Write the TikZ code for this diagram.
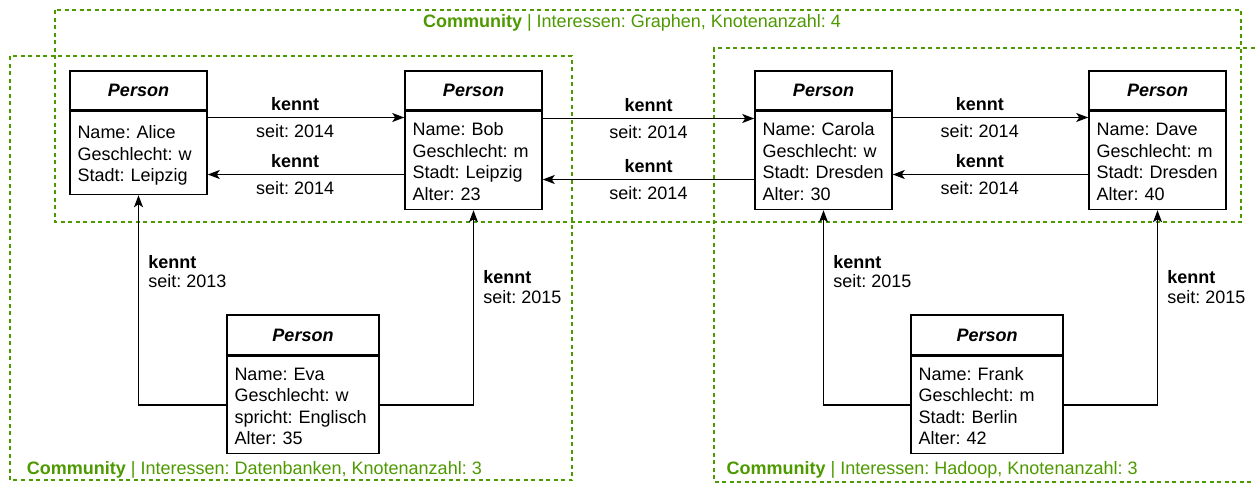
\documentclass[tikz,border=0pt]{standalone}
\usepackage{fontspec}
\setmainfont{Liberation Sans}
\usepackage{tikz}
\usetikzlibrary{arrows.meta,positioning}
\definecolor{commgreen}{HTML}{4D9900}
\tikzset{>={Stealth[length=12pt,width=9pt,inset=3pt]}}
\tikzset{%
    phead/.style={draw, line width=1.5pt, fill=white, minimum width=137pt,
        minimum height=39pt, inner sep=0pt,
        font=\fontsize{18}{21.5}\selectfont\bfseries\itshape},
    pbody/.style={draw, line width=1.5pt, fill=white, text width=122pt,
        inner xsep=7.5pt, inner ysep=0pt, align=left,
        font=\fontsize{18}{21.5}\selectfont\frenchspacing,
        execute at begin node=\rule{0pt}{18pt},
        execute at end node=\rule[-3.5pt]{0pt}{3.5pt}},
    link/.style={->, line width=1.5pt},
    lab/.style={font=\fontsize{18}{21.5}\selectfont\frenchspacing, inner xsep=0pt, inner ysep=6.5pt},
    vlab/.style={font=\fontsize{18}{19.5}\selectfont\frenchspacing, align=left, anchor=west,
        inner xsep=9pt, inner ysep=0pt},
    comm/.style={draw=commgreen, line width=1.3pt, dash pattern=on 4pt off 3.5pt},
    commtext/.style={text=commgreen, font=\fontsize{18}{21.5}\selectfont\frenchspacing, inner sep=0pt}
}

\begin{document}
\begin{tikzpicture}[x=1pt,y=-1pt]
  \useasboundingbox (0,0) rectangle (1255,483);
  \draw[comm] (55,10) rectangle (1241,222);
  \draw[comm] (10,56) rectangle (572,480);
  \draw[comm] (1262,48) -- (714,48) -- (714,482) -- (1262,482);
  \node[commtext, anchor=base] (tgraph) at (632,27) {\textbf{Community} | Interessen: Graphen, Knotenanzahl: 4};
  \node[commtext, anchor=base west] (tdb) at (26.7,474) {\textbf{Community} | Interessen: Datenbanken, Knotenanzahl: 3};
  \node[commtext, anchor=base west] (thadoop) at (726.5,474) {\textbf{Community} | Interessen: Hadoop, Knotenanzahl: 3};

  \node[phead] (alice) at (138.5,90.5) {Person};
  \node[pbody, minimum height=83pt, below=0pt of alice] (alicebody) {Name: Alice\\Geschlecht: w\\Stadt: Leipzig};
  \node[phead] (bob) at (473.5,90.5) {Person};
  \node[pbody, minimum height=98pt, below=0pt of bob] (bobbody) {Name: Bob\\Geschlecht: m\\Stadt: Leipzig\\Alter: 23};
  \node[phead] (carola) at (823.5,90.5) {Person};
  \node[pbody, minimum height=98pt, below=0pt of carola] (carolabody) {Name: Carola\\Geschlecht: w\\Stadt: Dresden\\Alter: 30};
  \node[phead] (dave) at (1157.5,90.5) {Person};
  \node[pbody, minimum height=98pt, below=0pt of dave] (davebody) {Name: Dave\\Geschlecht: m\\Stadt: Dresden\\Alter: 40};
  \node[phead, minimum width=152pt, minimum height=40pt] (eva) at (303,335) {Person};
  \node[pbody, text width=137pt, minimum height=97pt, below=0pt of eva] (evabody) {Name: Eva\\Geschlecht: w\\spricht: Englisch\\Alter: 35};
  \node[phead, minimum width=152pt, minimum height=40pt] (frank) at (987,335) {Person};
  \node[pbody, text width=137pt, minimum height=97pt, below=0pt of frank] (frankbody) {Name: Frank\\Geschlecht: m\\Stadt: Berlin\\Alter: 42};

  \draw[link] ([yshift=-6.75pt]alicebody.north east) -- node[lab, above, pos=0.445] (k1) {\textbf{kennt}} node[lab, below, pos=0.445] (s1) {seit: 2014} ([yshift=-6.75pt]bobbody.north west);
  \draw[link] ([yshift=-63.75pt]bobbody.north west) -- node[lab, above, pos=0.555] (k2) {\textbf{kennt}} node[lab, below, pos=0.555] (s2) {seit: 2014} ([yshift=-63.75pt]alicebody.north east);
  \draw[link] ([yshift=-7.75pt]bobbody.north east) -- node[lab, above] (k3) {\textbf{kennt}} node[lab, below] (s3) {seit: 2014} ([yshift=-7.75pt]carolabody.north west);
  \draw[link] ([yshift=-68.75pt]carolabody.north west) -- node[lab, above] (k4) {\textbf{kennt}} node[lab, below] (s4) {seit: 2014} ([yshift=-68.75pt]bobbody.north east);
  \draw[link] ([yshift=-6.75pt]carolabody.north east) -- node[lab, above, pos=0.445] (k5) {\textbf{kennt}} node[lab, below, pos=0.445] (s5) {seit: 2014} ([yshift=-6.75pt]davebody.north west);
  \draw[link] ([yshift=-63.75pt]davebody.north west) -- node[lab, above, pos=0.555] (k6) {\textbf{kennt}} node[lab, below, pos=0.555] (s6) {seit: 2014} ([yshift=-63.75pt]carolabody.north east);

  \draw[link] (evabody.west) -| node[vlab, pos=0.818] (k7) {\textbf{kennt}\\seit: 2013} (alicebody.south);
  \draw[link] (evabody.east) -| node[vlab, pos=0.803] (k8) {\textbf{kennt}\\seit: 2015} (bobbody.south);
  \draw[link] (frankbody.west) -| node[vlab, pos=0.842] (k9) {\textbf{kennt}\\seit: 2015} (carolabody.south);
  \draw[link] (frankbody.east) -| node[vlab, pos=0.803] (k10) {\textbf{kennt}\\seit: 2015} (davebody.south);
\end{tikzpicture}
\end{document}
